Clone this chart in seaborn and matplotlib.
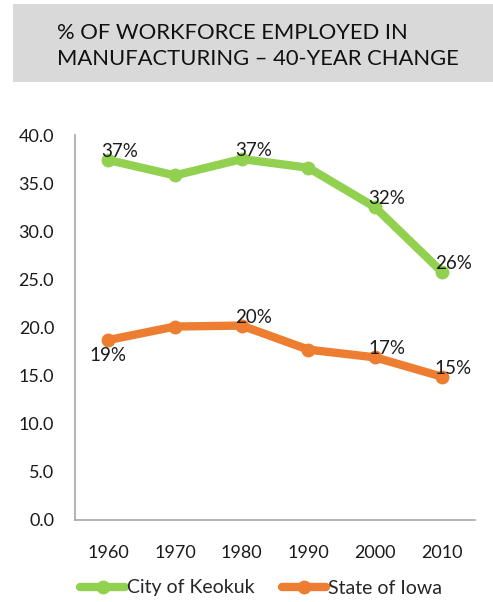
import matplotlib
matplotlib.use("Agg")
import matplotlib.pyplot as plt
import seaborn as sns
import pandas as pd
from matplotlib.patches import Rectangle

years = ["1960", "1970", "1980", "1990", "2000", "2010"]
keokuk = [37.4, 35.8, 37.5, 36.6, 32.5, 25.8]
iowa = [18.7, 20.1, 20.2, 17.7, 16.9, 14.9]
series_names = ["City of Keokuk", "State of Iowa"]
keokuk_labels = {"1960": "37%", "1980": "37%", "2000": "32%", "2010": "26%"}
iowa_labels = {"1960": "19%", "1980": "20%", "2000": "17%", "2010": "15%"}
yticks = [0, 5, 10, 15, 20, 25, 30, 35, 40]
title = "% OF WORKFORCE EMPLOYED IN\nMANUFACTURING \u2013 40-YEAR CHANGE"

green = "#92d050"
orange = "#ed7d31"

sns.set_theme(style="white")
plt.rcParams["font.family"] = ["Lato", "DejaVu Sans"]

df = pd.DataFrame({
    "year": years * 2,
    "value": keokuk + iowa,
    "series": [series_names[0]] * len(years) + [series_names[1]] * len(years),
})

fig = plt.figure(figsize=(4.93, 6.02), dpi=100)
ax = fig.add_axes([75 / 493, 1 - 520 / 602, 400 / 493, 385 / 602])

sns.lineplot(data=df, x="year", y="value", hue="series", palette=[green, orange],
             marker="o", markersize=10, markeredgewidth=0, linewidth=6,
             sort=False, ax=ax, legend=True)

ax.set_xlim(-0.5, len(years) - 0.5)
ax.set_ylim(0, 40)
ax.set_yticks(yticks)
ax.set_yticklabels([f"{v:.1f}" for v in yticks])
ax.set_xlabel("")
ax.set_ylabel("")
for s in ["top", "right"]:
    ax.spines[s].set_visible(False)
for s in ["left", "bottom"]:
    ax.spines[s].set_color("#a6a6a6")
    ax.spines[s].set_linewidth(1.2)
ax.tick_params(axis="both", length=0, labelsize=13, colors="#1a1a1a")
ax.tick_params(axis="x", pad=18)
ax.tick_params(axis="y", pad=15)

lab_kw = dict(textcoords="offset points", fontsize=13.5, color="#1a1a1a")
for i, y in enumerate(years):
    if y in keokuk_labels:
        ax.annotate(keokuk_labels[y], (i, keokuk[i]), xytext=(-5, 0),
                    ha="left", va="bottom", **lab_kw)
    if y in iowa_labels:
        if i == 0:
            ax.annotate(iowa_labels[y], (i, iowa[i]), xytext=(0, -5),
                        ha="center", va="top", **lab_kw)
        else:
            ax.annotate(iowa_labels[y], (i, iowa[i]), xytext=(-5, 0),
                        ha="left", va="bottom", **lab_kw)

leg = ax.legend_
handles = leg.legend_handles
labels = [t.get_text() for t in leg.get_texts()]
leg.remove()
fig.legend(handles, labels, loc="center", bbox_to_anchor=(0.53, 1 - 588 / 602),
           ncol=2, frameon=False, fontsize=14, handlelength=2.3,
           handletextpad=0.1, columnspacing=1.4)

fig.patches.append(Rectangle((13 / 493, 1 - 82 / 602), 480 / 493, 78 / 602,
                             transform=fig.transFigure, facecolor="#d9d9d9",
                             edgecolor="none", zorder=0))
fig.text(57 / 493, 1 - 46 / 602, title, ha="left", va="center",
         fontsize=15.8, color="#111111", linespacing=1.4)

fig.savefig("out.png", dpi=100)
